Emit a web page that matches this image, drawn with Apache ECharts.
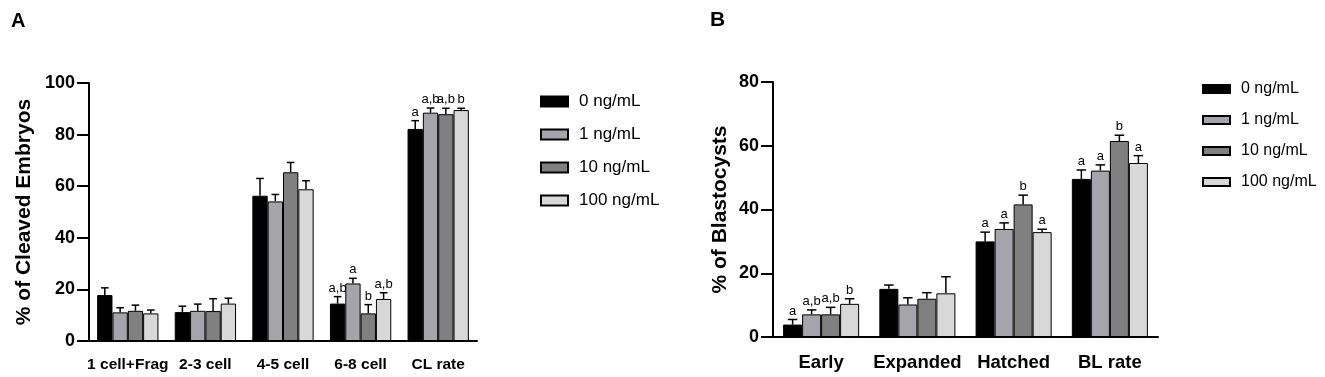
<!DOCTYPE html>
<html>
<head>
<meta charset="utf-8">
<script src="https://cdn.jsdelivr.net/npm/echarts@6/dist/echarts.min.js"></script>
<style>
  html, body { margin: 0; padding: 0; background: #fff; }
  #chart { width: 1325px; height: 377px; }
</style>
</head>
<body>
<div id="chart"></div>
<script>
// doses (legend)
var doses = ['0 ng/mL', '1 ng/mL', '10 ng/mL', '100 ng/mL'];
var doseColors = ['#000000', '#a4a4aa', '#808080', '#d8d8d8'];

// panel A: cleavage
var cleavCats = ['1 cell+Frag', '2-3 cell', '4-5 cell', '6-8 cell', 'CL rate'];
var cleav0 = [17.8, 11.2, 56.3, 14.5, 82.2];
var cleav1 = [11.1, 11.7, 54.1, 22.3, 88.5];
var cleav10 = [11.7, 11.6, 65.4, 10.7, 87.9];
var cleav100 = [10.7, 14.5, 58.8, 16.3, 89.5];
var cleavErr0 = [2.8, 2.3, 6.7, 2.7, 3.2];
var cleavErr1 = [1.8, 2.6, 2.7, 2.0, 1.8];
var cleavErr10 = [2.2, 4.8, 3.8, 3.4, 2.3];
var cleavErr100 = [1.3, 2.1, 3.3, 2.4, 0.7];
var cleavSig0 = ['', '', '', 'a,b', 'a'];
var cleavSig1 = ['', '', '', 'a', 'a,b'];
var cleavSig10 = ['', '', '', 'b', 'a,b'];
var cleavSig100 = ['', '', '', 'a,b', 'b'];

// panel B: blastocysts
var blastCats = ['Early', 'Expanded', 'Hatched', 'BL rate'];
var blast0 = [3.9, 15.1, 30.0, 49.6];
var blast1 = [7.1, 10.2, 33.9, 52.2];
var blast10 = [7.1, 12.0, 41.6, 61.5];
var blast100 = [10.4, 13.7, 32.9, 54.6];
var blastErr0 = [1.6, 1.2, 2.9, 2.8];
var blastErr1 = [1.4, 2.1, 1.9, 1.8];
var blastErr10 = [2.2, 1.9, 2.9, 1.8];
var blastErr100 = [1.6, 5.2, 0.9, 2.3];
var blastSig0 = ['a', '', 'a', 'a'];
var blastSig1 = ['a,b', '', 'a', 'a'];
var blastSig10 = ['a,b', '', 'b', 'b'];
var blastSig100 = ['b', '', 'a', 'a'];

var FONT = 'Liberation Sans, Arial, sans-serif';
var GAP = 0.21;

var cleavMeans = [cleav0, cleav1, cleav10, cleav100];
var cleavErrs = [cleavErr0, cleavErr1, cleavErr10, cleavErr100];
var cleavSigs = [cleavSig0, cleavSig1, cleavSig10, cleavSig100];
var blastMeans = [blast0, blast1, blast10, blast100];
var blastErrs = [blastErr0, blastErr1, blastErr10, blastErr100];
var blastSigs = [blastSig0, blastSig1, blastSig10, blastSig100];

function errData(means, errs) {
    var out = [];
    means.forEach(function (m, k) {
        m.forEach(function (v, c) { out.push([c, v, errs[k][c], k]); });
    });
    return out;
}

function errRenderer(sigs) {
    return function (params, api) {
        var c = api.value(0), v = api.value(1), e = api.value(2), k = api.value(3);
        var band = api.size([1, 0])[0];
        var gw = band * (1 - GAP);
        var bw = gw / 4;
        var p = api.coord([c, v]);
        var x = p[0] - gw / 2 + (k + 0.5) * bw;
        var top = api.coord([c, v + e])[1];
        var cap = bw * 0.25;
        var st = { stroke: '#000', lineWidth: 1.5 };
        return {
            type: 'group',
            children: [
                { type: 'line', shape: { x1: x, y1: p[1], x2: x, y2: top }, style: st },
                { type: 'line', shape: { x1: x - cap, y1: top, x2: x + cap, y2: top }, style: st },
                { type: 'text', style: { x: x, y: top - 2, text: sigs[k][c], align: 'center', verticalAlign: 'bottom',
                    fill: '#000', font: '13px ' + FONT } }
            ]
        };
    };
}

function xAxis(idx, cats, fs) {
    return {
        type: 'category', gridIndex: idx, data: cats,
        axisLine: { lineStyle: { color: '#000', width: 2 } },
        axisTick: { alignWithLabel: true, length: 11, lineStyle: { width: 2 } },
        axisLabel: { color: '#000', fontWeight: 'bold', fontSize: fs, fontFamily: FONT, margin: 16, interval: 0 }
    };
}

function yAxis(idx, max, name, gap) {
    return {
        type: 'value', gridIndex: idx, min: 0, max: max, interval: 20,
        name: name, nameLocation: 'middle', nameGap: gap,
        nameTextStyle: { color: '#000', fontWeight: 'bold', fontSize: 21, fontFamily: FONT },
        splitLine: { show: false },
        axisLine: { show: true, lineStyle: { color: '#000', width: 2 } },
        axisTick: { show: true, length: 12, lineStyle: { width: 2 } },
        axisLabel: { color: '#000', fontWeight: 'bold', fontSize: 18, fontFamily: FONT, margin: 14 }
    };
}

var series = [];
[[cleavMeans, 0], [blastMeans, 1]].forEach(function (pair) {
    pair[0].forEach(function (vals, k) {
        series.push({
            type: 'bar', name: doses[k], xAxisIndex: pair[1], yAxisIndex: pair[1],
            data: vals, barGap: '0%', barCategoryGap: (GAP * 100) + '%',
            itemStyle: { color: doseColors[k], borderColor: '#000', borderWidth: 1 }
        });
    });
});
series.push({ type: 'custom', xAxisIndex: 0, yAxisIndex: 0, renderItem: errRenderer(cleavSigs),
    data: errData(cleavMeans, cleavErrs), z: 5, clip: false });
series.push({ type: 'custom', xAxisIndex: 1, yAxisIndex: 1, renderItem: errRenderer(blastSigs),
    data: errData(blastMeans, blastErrs), z: 5, clip: false });

var chart = echarts.init(document.getElementById('chart'));
chart.setOption({
    animation: false,
    backgroundColor: '#fff',
    title: [
        { text: 'A', left: 6, top: 6, textStyle: { fontSize: 20, fontWeight: 'bold', fontFamily: FONT, color: '#000' } },
        { text: 'B', left: 705, top: 5, textStyle: { fontSize: 21, fontWeight: 'bold', fontFamily: FONT, color: '#000' } }
    ],
    grid: [
        { left: 89, top: 83, width: 388, height: 258 },
        { left: 773, top: 82, width: 385, height: 255 }
    ],
    xAxis: [xAxis(0, cleavCats, 15.5), xAxis(1, blastCats, 18.5)],
    yAxis: [yAxis(0, 100, '% of Cleaved Embryos', 54), yAxis(1, 80, '% of Blastocysts', 42)],
    legend: [
        { data: doses, orient: 'vertical', left: 535, top: 88, itemWidth: 27, itemHeight: 10, itemGap: 16,
          icon: 'rect', textStyle: { fontSize: 17, lineHeight: 17, fontFamily: FONT, color: '#000', padding: [0, 0, 0, 6] } },
        { data: doses, orient: 'vertical', left: 1197, top: 76, itemWidth: 27, itemHeight: 8, itemGap: 15,
          icon: 'rect', textStyle: { fontSize: 16, lineHeight: 16, fontFamily: FONT, color: '#000', padding: [0, 0, 0, 6] } }
    ],
    series: series
});
</script>
</body>
</html>
